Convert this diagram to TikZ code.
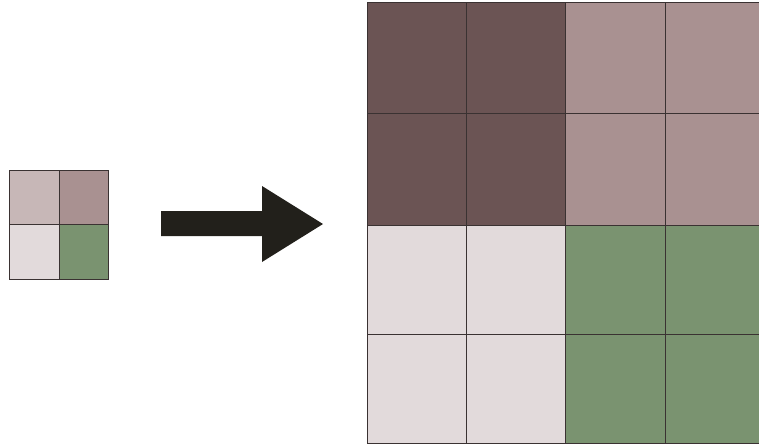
\documentclass[tikz,border=0pt]{standalone}
\definecolor{cdark}{HTML}{6B5454}
\definecolor{cmid}{HTML}{A99191}
\definecolor{clight}{HTML}{C7B7B7}
\definecolor{cpale}{HTML}{E2DADB}
\definecolor{cgreen}{HTML}{7A9370}
\definecolor{carrow}{HTML}{22201B}
\definecolor{cline}{HTML}{3A3232}
\begin{document}
\begin{tikzpicture}[x=1pt,y=-1pt,
  cell/.style={draw=cline,line width=0.8pt}]
\useasboundingbox (0,0) rectangle (759,445);
% small grid
\fill[clight] (9,170) rectangle (59,224);
\fill[cmid] (59,170) rectangle (108,224);
\fill[cpale] (9,224) rectangle (59,279);
\fill[cgreen] (59,224) rectangle (108,279);
\draw[cell] (9,170) rectangle (108,279);
\draw[cell] (59,170) -- (59,279);
\draw[cell] (9,224) -- (108,224);
% arrow
\fill[carrow] (161,211) -- (262,211) -- (262,186) -- (323,224) -- (262,262) -- (262,236) -- (161,236) -- cycle;
% big grid
\fill[cdark] (367,2) rectangle (565,225);
\fill[cmid] (565,2) rectangle (759,225);
\fill[cpale] (367,225) rectangle (565,443);
\fill[cgreen] (565,225) rectangle (759,443);
\draw[cell] (367,2) rectangle (759,443);
\foreach \x in {466,565,665} \draw[cell] (\x,2) -- (\x,443);
\foreach \y in {113,225,334} \draw[cell] (367,\y) -- (759,\y);
\end{tikzpicture}
\end{document}
